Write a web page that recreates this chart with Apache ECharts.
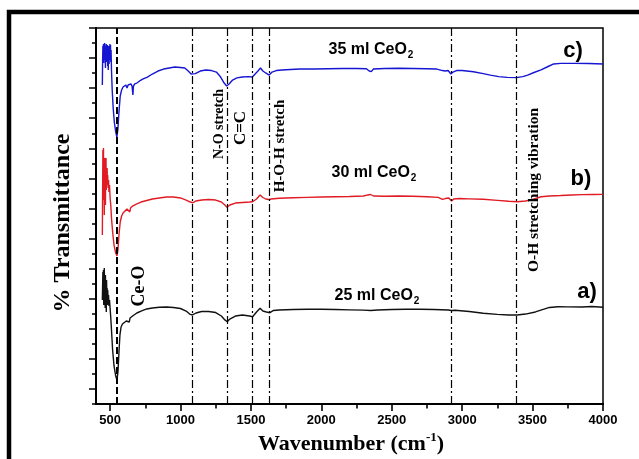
<!DOCTYPE html>
<html>
<head>
<meta charset="utf-8">
<script src="https://cdn.jsdelivr.net/npm/echarts@6/dist/echarts.min.js"></script>
<style>
  html, body { margin: 0; padding: 0; background: #fff; }
  #chart { width: 639px; height: 459px; }
</style>
</head>
<body>
<div id="chart"></div>
<script>
// FTIR spectra of CeO2 samples (arbitrary stacked transmittance units)

// c) 35 ml CeO2
const waveBlue = [445,447,449,451,453,455,457,459,461,463,465,467,469,471,473,475,477,479,481,483,485,487,489,491,493,495,497,499,501,503,505,507,510,515,522,530,540,548,555,563,572,582,592,602,612,620,628,638,648,656,662,666,675,690,710,735,765,800,840,880,920,960,1000,1030,1055,1075,1088,1105,1140,1180,1220,1255,1285,1310,1328,1345,1370,1400,1440,1480,1510,1530,1550,1568,1585,1605,1630,1650,1680,1720,1780,1850,1950,2050,2150,2250,2320,2340,2355,2370,2450,2550,2650,2750,2820,2860,2880,2900,2920,2935,2960,3000,3080,3150,3200,3260,3320,3385,3430,3465,3510,3560,3610,3650,3700,3800,3900,4000];
const transBlue = [21.21,22.87,23.80,23.20,23.94,22.67,23.87,23.40,24.00,22.87,23.80,22.34,23.67,23.20,23.94,22.74,23.74,23.01,23.87,22.47,23.54,22.21,23.40,23.80,22.61,23.67,22.87,23.94,23.07,23.87,22.74,23.54,22.21,20.88,19.68,18.75,18.09,17.75,18.22,19.41,20.48,20.88,21.08,21.14,21.21,21.01,21.21,21.14,21.28,21.14,20.55,21.14,21.28,21.34,21.48,21.61,21.74,21.94,22.14,22.27,22.34,22.41,22.37,22.34,22.14,21.94,21.87,21.97,22.14,22.21,22.17,22.07,21.74,21.34,21.14,21.28,21.54,21.68,21.74,21.77,21.74,21.94,22.14,22.34,22.14,22.01,21.87,22.07,22.17,22.21,22.24,22.27,22.27,22.29,22.31,22.31,22.29,22.14,22.10,22.27,22.31,22.32,22.31,22.29,22.27,22.17,22.14,22.17,21.94,22.07,22.17,22.17,22.09,21.97,21.87,21.77,21.72,21.70,21.77,21.87,22.04,22.21,22.44,22.61,22.65,22.65,22.64,22.61];

// b) 30 ml CeO2
const waveRed = [445,447,449,451,453,455,457,459,461,463,465,467,469,471,473,475,477,479,481,483,486,489,492,496,500,505,510,518,528,540,549,556,563,572,582,592,605,620,632,640,645,660,690,720,760,800,850,900,950,1000,1040,1070,1088,1110,1150,1200,1250,1290,1315,1330,1350,1390,1440,1490,1512,1540,1565,1585,1605,1625,1645,1700,1800,1900,2000,2100,2200,2300,2330,2350,2370,2450,2550,2650,2750,2830,2860,2880,2905,2925,2940,2980,3050,3150,3250,3330,3390,3450,3500,3560,3620,3700,3780,3850,3930,4000];
const transRed = [11.24,14.23,16.89,15.23,17.02,13.56,16.22,12.57,16.36,14.56,15.89,13.23,15.56,16.36,14.23,15.43,14.89,15.69,14.56,15.23,14.36,14.89,14.10,14.56,13.70,13.23,12.37,11.44,10.57,10.04,9.84,10.24,11.24,12.10,12.50,12.70,12.83,12.97,13.03,12.77,13.03,13.16,13.30,13.43,13.53,13.63,13.70,13.76,13.76,13.70,13.56,13.43,13.38,13.50,13.56,13.60,13.56,13.43,13.23,13.08,13.23,13.36,13.40,13.43,13.45,13.63,13.90,13.73,13.63,13.60,13.63,13.68,13.71,13.74,13.76,13.78,13.80,13.83,13.90,13.93,13.83,13.81,13.83,13.81,13.78,13.74,13.60,13.66,13.70,13.50,13.63,13.66,13.64,13.61,13.54,13.48,13.45,13.50,13.60,13.78,13.83,13.86,13.90,13.92,13.93,13.94];

// a) 25 ml CeO2
const waveBlack = [445,447,449,451,453,455,457,459,461,463,465,467,469,471,473,475,477,479,481,483,486,489,492,496,500,505,510,518,528,540,549,556,563,570,578,588,600,615,628,636,642,660,690,720,760,800,850,900,950,1000,1040,1065,1085,1110,1150,1200,1250,1290,1315,1332,1350,1390,1440,1490,1512,1540,1565,1585,1610,1635,1660,1700,1800,1900,2000,2100,2200,2300,2350,2400,2500,2600,2700,2800,2900,2925,2950,3050,3150,3250,3330,3390,3450,3520,3570,3620,3680,3750,3850,3920,4000];
const transBlack = [6.91,7.91,8.78,7.05,8.91,6.58,8.24,9.04,6.91,8.38,6.38,8.58,7.25,8.05,6.12,8.24,7.05,7.71,6.58,7.58,6.91,7.25,6.52,6.91,6.38,5.72,4.92,3.59,2.53,1.86,1.60,2.13,3.46,4.59,5.12,5.32,5.42,5.52,5.59,5.45,5.72,5.85,6.05,6.18,6.32,6.38,6.43,6.45,6.42,6.35,6.18,5.98,5.92,6.05,6.15,6.15,6.08,5.85,5.59,5.47,5.65,5.85,5.92,5.85,5.80,6.12,6.36,6.18,6.12,6.07,6.22,6.25,6.28,6.30,6.30,6.28,6.26,6.24,6.22,6.25,6.28,6.30,6.30,6.28,6.25,6.22,6.23,6.15,6.03,5.96,5.92,5.92,5.98,6.12,6.28,6.42,6.47,6.46,6.45,6.48,6.43];

// Band positions (cm-1) marked by vertical reference lines
const bandCeO = 550;
const bandLines = [1085, 1330, 1510, 1630, 2925, 3385];

// Axis ticks
const xMajorTicks = [500, 1000, 1500, 2000, 2500, 3000, 3500, 4000];
const xMinorTicks = [750, 1250, 1750, 2250, 2750, 3250, 3750];
const yMajorTicks = [1, 3, 5, 7, 9, 11, 13, 15, 17, 19, 21, 23, 25];
const yMinorTicks = [0, 2, 4, 6, 8, 10, 12, 14, 16, 18, 20, 22, 24];

const pairs = (xs, ys) => xs.map((x, i) => [x, ys[i]]);

const serifBold = '"Liberation Serif", "Times New Roman", serif';
const sansBold = '"Liberation Sans", Arial, sans-serif';

const chart = echarts.init(document.getElementById('chart'), null, { renderer: 'canvas' });

function sampleLabel(text, cx, top) {
  return {
    type: 'text', x: cx, y: top, z: 100,
    style: {
      text: '{m|' + text + '}{s|2}',
      textAlign: 'center', textVerticalAlign: 'top',
      rich: {
        m: { fontFamily: sansBold, fontWeight: 'bold', fontSize: 16, lineHeight: 18, verticalAlign: 'top', fill: '#000' },
        s: { fontFamily: sansBold, fontWeight: 'bold', fontSize: 10, lineHeight: 10, padding: [12, 0, 0, 1], verticalAlign: 'bottom', fill: '#000' }
      }
    }
  };
}

function vText(text, cx, cy, size) {
  return {
    type: 'text', x: cx, y: cy, rotation: Math.PI / 2, z: 100,
    style: {
      text: text, fontFamily: serifBold, fontWeight: 'bold', fontSize: size,
      fill: '#000', textAlign: 'center', textVerticalAlign: 'middle'
    }
  };
}

function tag(text, cx, cy) {
  return {
    type: 'text', x: cx, y: cy, z: 100,
    style: {
      text: text, fontFamily: sansBold, fontWeight: 'bold', fontSize: 22,
      fill: '#000', textAlign: 'center', textVerticalAlign: 'middle'
    }
  };
}

const bandMarks = [{ xAxis: bandCeO, lineStyle: { type: [7, 3], width: 2, color: '#000' } }]
  .concat(bandLines.map(v => ({ xAxis: v, lineStyle: { type: [8, 3, 2, 3], width: 1.2, color: '#000' } })));

const plainNumber = v => String(v);

const option = {
  animation: false,
  backgroundColor: '#fff',
  grid: {
    left: 96, right: 36, top: 28, bottom: 55,
    show: true, borderColor: '#000', borderWidth: 1.5, backgroundColor: 'transparent',
    containLabel: false, outerBoundsMode: 'none'
  },
  xAxis: [
    {
      type: 'value', min: 400, max: 4000,
      axisLine: { show: true, onZero: false, lineStyle: { color: '#000', width: 2 } },
      axisTick: { show: true, customValues: xMajorTicks, length: 7, inside: false, lineStyle: { color: '#000', width: 1.6 } },
      axisLabel: { show: true, customValues: xMajorTicks, formatter: plainNumber, margin: 10, color: '#000', fontFamily: sansBold, fontWeight: 'bold', fontSize: 13 },
      splitLine: { show: false }
    },
    {
      type: 'value', min: 400, max: 4000, gridIndex: 0, position: 'bottom', offset: 0,
      axisLine: { show: true, onZero: false, lineStyle: { color: '#000', width: 2 } },
      axisTick: { show: true, customValues: xMinorTicks, length: 4.5, inside: false, lineStyle: { color: '#000', width: 1.6 } },
      axisLabel: { show: false },
      splitLine: { show: false }
    }
  ],
  yAxis: [
    {
      type: 'value', min: 0, max: 25,
      axisLine: { show: true, onZero: false, lineStyle: { color: '#000', width: 2 } },
      axisTick: { show: true, customValues: yMajorTicks, length: 7, inside: false, lineStyle: { color: '#000', width: 1.5 } },
      axisLabel: { show: false },
      splitLine: { show: false }
    },
    {
      type: 'value', min: 0, max: 25, position: 'left', offset: 0,
      axisLine: { show: true, onZero: false, lineStyle: { color: '#000', width: 2 } },
      axisTick: { show: true, customValues: yMinorTicks, length: 4, inside: false, lineStyle: { color: '#000', width: 1.5 } },
      axisLabel: { show: false },
      splitLine: { show: false }
    }
  ],
  series: [
    {
      name: 'bands', type: 'line', data: [], silent: true,
      markLine: { silent: true, symbol: ['none', 'none'], label: { show: false }, data: bandMarks }
    },
    {
      name: '35 ml CeO2', type: 'line', data: pairs(waveBlue, transBlue), showSymbol: false,
      lineStyle: { color: '#1515d2', width: 1.4 }, itemStyle: { color: '#1515d2' }
    },
    {
      name: '30 ml CeO2', type: 'line', data: pairs(waveRed, transRed), showSymbol: false,
      lineStyle: { color: '#e01b24', width: 1.4 }, itemStyle: { color: '#e01b24' }
    },
    {
      name: '25 ml CeO2', type: 'line', data: pairs(waveBlack, transBlack), showSymbol: false,
      lineStyle: { color: '#111', width: 1.4 }, itemStyle: { color: '#111' }
    }
  ],
  graphic: [
    // outer frame
    { type: 'rect', shape: { x: 9, y: 12, width: 700, height: 500 }, style: { fill: 'none', stroke: '#000', lineWidth: 4.5 }, z: 50 },
    // axis titles
    vText('% Transmittance', 63, 223, 24),
    {
      type: 'text', x: 351, y: 443, z: 100,
      style: {
        text: '{t|Wavenumber (cm}{u|-1}{t|)}',
        textAlign: 'center', textVerticalAlign: 'middle',
        rich: {
          t: { fontFamily: serifBold, fontWeight: 'bold', fontSize: 22, lineHeight: 24, verticalAlign: 'bottom', padding: [6, 0, 0, 0], fill: '#000' },
          u: { fontFamily: serifBold, fontWeight: 'bold', fontSize: 13, lineHeight: 13, verticalAlign: 'top', fill: '#000' }
        }
      }
    },
    // band annotations
    vText('Ce-O', 139, 286, 18),
    vText('N-O stretch', 219, 124, 14),
    vText('C=C', 241, 128, 17),
    vText('H-O-H stretch', 280, 146, 15),
    vText('O-H stretching vibration', 534, 190, 15.5),
    // sample labels
    sampleLabel('35 ml CeO', 371, 42),
    sampleLabel('30 ml CeO', 374, 165),
    sampleLabel('25 ml CeO', 377, 288),
    tag('c)', 573, 51),
    tag('b)', 581, 179),
    tag('a)', 587, 292)
  ]
};

chart.setOption(option);
</script>
</body>
</html>
